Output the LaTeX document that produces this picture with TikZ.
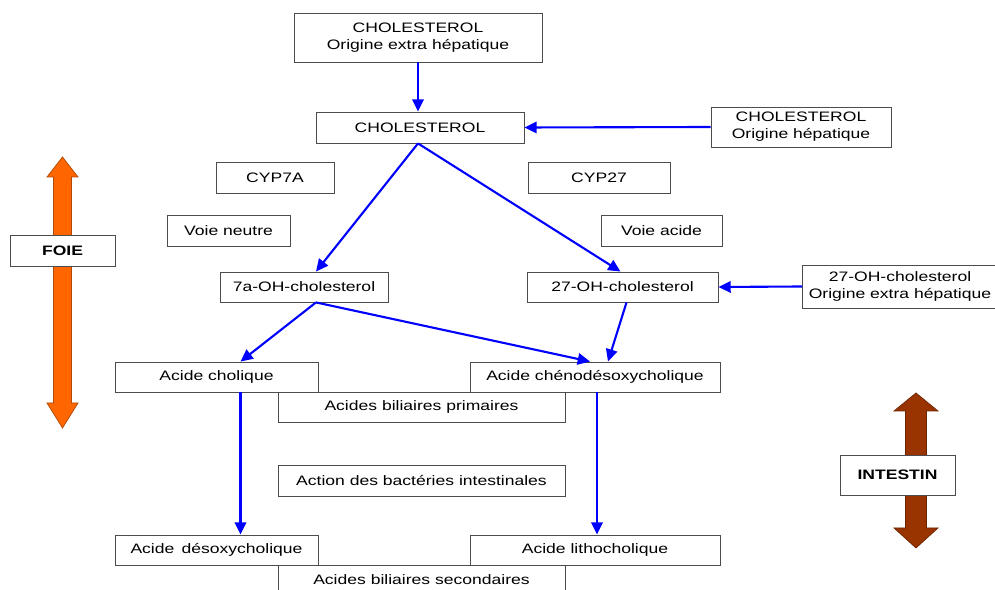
\documentclass[tikz,border=0pt]{standalone}
\usepackage{fontspec}
\setmainfont{Liberation Sans}[FakeStretch=1.28]
\usepackage{xcolor}
\usepackage{tikz}
\usetikzlibrary{positioning,arrows.meta,calc,shadows}

\definecolor{foiecol}{HTML}{FF6600}
\definecolor{intcol}{HTML}{993300}

\tikzset{
	box/.style={draw=black!70, fill=white, line width=.5pt, align=center, inner sep=1pt,
		font=\fontsize{7.8}{9.8}\selectfont,
		drop shadow={shadow xshift=.6pt, shadow yshift=-.6pt, opacity=.35, fill=black}},
	flux/.style={-{Triangle[length=7pt,width=6.5pt]}, draw=blue, line width=1.2pt},
	organe/.style={box, font=\fontsize{7.8}{9.8}\selectfont\bfseries},
}

\begin{document}
\begin{tikzpicture}[x=0.02cm, y=-0.02cm]
	\useasboundingbox (0,0) rectangle (995,590);

	% big arrows: foie and intestin
	\draw[fill=foiecol, draw=foiecol!70!black, line width=.4pt]
	(62.5,157) -- (78,177) -- (71.5,177) -- (71.5,403) -- (78,403) -- (62.5,428)
	-- (47,403) -- (53.5,403) -- (53.5,177) -- (47,177) -- cycle;
	\draw[fill=intcol, draw=intcol!70!black, line width=.4pt]
	(916,393) -- (938,411) -- (926.5,411) -- (926.5,528) -- (938,528) -- (916,548)
	-- (894,528) -- (905.5,528) -- (905.5,411) -- (894,411) -- cycle;

	% boxes behind
	\node[box, minimum width=5.74cm, minimum height=0.6cm] (primaires) at (421.5,407) {Acides biliaires primaires};
	\node[box, minimum width=5.74cm, minimum height=0.6cm] (secondaires) at (421.5,580) {Acides biliaires secondaires};

	% main boxes
	\node[box, minimum width=4.96cm, minimum height=0.98cm] (cholext) at (418,37.5) {CHOLESTEROL\\Origine extra hépatique};
	\node[box, minimum width=4.16cm, minimum height=0.62cm] (chol) at (420,127.5) {CHOLESTEROL};
	\node[box, minimum width=3.6cm, minimum height=0.8cm] (cholhep) at (801,127) {CHOLESTEROL\\Origine hépatique};
	\node[box, minimum width=2.36cm, minimum height=0.62cm] (cyp7a) at (275,177.5) {CYP7A};
	\node[box, minimum width=2.84cm, minimum height=0.62cm] (cyp27) at (599,177.5) {CYP27};
	\node[box, minimum width=2.46cm, minimum height=0.62cm] (neutre) at (228.5,230.5) {Voie neutre};
	\node[box, minimum width=2.42cm, minimum height=0.62cm] (acide) at (661.5,230.5) {Voie acide};
	\node[box, minimum width=3.36cm, minimum height=0.6cm] (septoh) at (304,287) {7a-OH-cholesterol};
	\node[box, minimum width=3.82cm, minimum height=0.6cm] (vingtoh) at (622.5,287) {27-OH-cholesterol};
	\node[box, minimum width=3.9cm, minimum height=0.86cm] (vingtext) at (900,286.5) {27-OH-cholesterol\\Origine extra hépatique};
	\node[box, minimum width=4.06cm, minimum height=0.6cm] (cholique) at (216.5,377) {Acide cholique};
	\node[box, minimum width=5cm, minimum height=0.6cm] (cheno) at (595,377) {Acide chénodésoxycholique};
	\node[box, minimum width=5.74cm, minimum height=0.62cm] (bacteries) at (421.5,480.5) {Action des bactéries intestinales};
	\node[box, minimum width=4.06cm, minimum height=0.6cm] (desoxy) at (216.5,550) {Acide\, désoxycholique};
	\node[box, minimum width=5cm, minimum height=0.6cm] (litho) at (595,550) {Acide lithocholique};

	% organs
	\node[organe, minimum width=2.1cm, minimum height=0.62cm] (foie) at (62.5,250.5) {FOIE};
	\node[organe, minimum width=2.3cm, minimum height=0.8cm] (intestin) at (897.5,475) {INTESTIN};

	% pathways
	\draw[flux] (cholext.south) -- (cholext.south |- chol.north);
	\draw[flux] (cholhep.west) -- (chol.east);
	\draw[flux] ($(chol.south)+(-2,0)$) -- ($(septoh.north)+(12,0)$);
	\draw[flux] ($(chol.south)+(-2,0)$) -- ($(vingtoh.north)+(-2,0)$);
	\draw[flux] (vingtext.west) -- (vingtoh.east);
	\draw[flux] ($(septoh.south)+(12,0)$) -- ($(cholique.north)+(24,0)$);
	\draw[flux] ($(septoh.south)+(12,0)$) -- ($(cheno.north)+(-5,0)$);
	\draw[flux] ($(vingtoh.south)+(4,0)$) -- ($(cheno.north)+(13,0)$);
	\draw[flux] ($(cholique.south)+(24,0)$) -- ($(desoxy.north)+(24,0)$);
	\draw[flux] ($(cheno.south)+(2,0)$) -- ($(litho.north)+(2,0)$);
\end{tikzpicture}
\end{document}
